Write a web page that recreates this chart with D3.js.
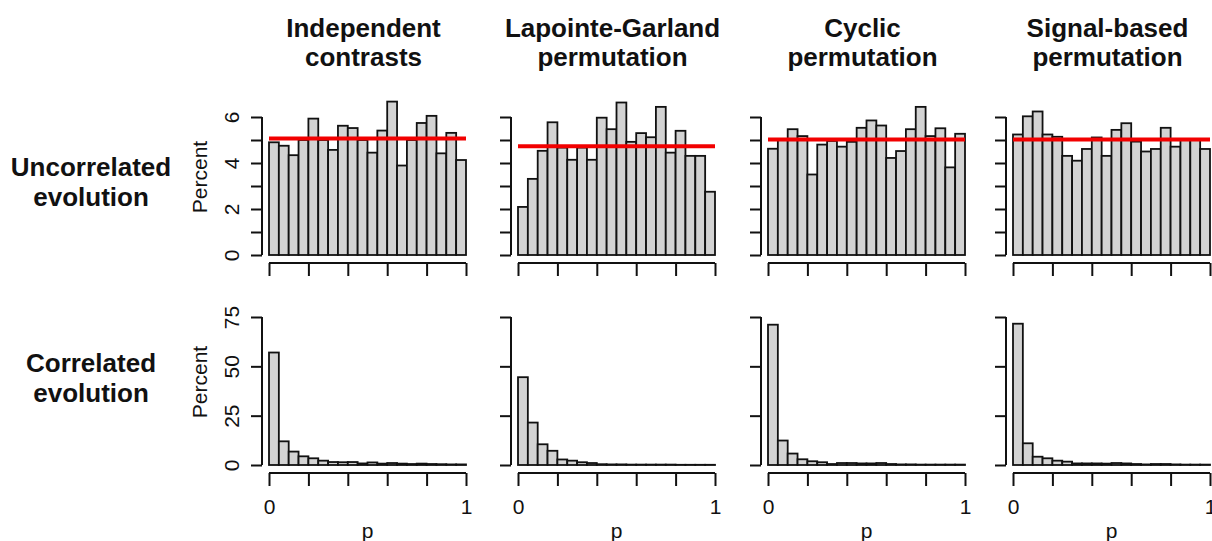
<!DOCTYPE html>
<html>
<head>
<meta charset="utf-8">
<script src="https://cdn.jsdelivr.net/npm/d3@7"></script>
<style>
  body { margin: 0; background: #fff; }
  text { font-family: "Liberation Sans", Arial, Helvetica, sans-serif; fill: #111; }
</style>
</head>
<body>
<div id="chart"></div>
<script>
// bin edges for the p-value histograms
var binEdges = [0, 0.05, 0.1, 0.15, 0.2, 0.25, 0.3, 0.35, 0.4, 0.45, 0.5,
                0.55, 0.6, 0.65, 0.7, 0.75, 0.8, 0.85, 0.9, 0.95, 1];

var columnTitles = [
    ['Independent', 'contrasts'],
    ['Lapointe-Garland', 'permutation'],
    ['Cyclic', 'permutation'],
    ['Signal-based', 'permutation']
];
var rowTitles = [
    ['Uncorrelated', 'evolution'],
    ['Correlated', 'evolution']
];

// percent of p values per bin, uncorrelated evolution
var uncorrIC  = [4.90, 4.75, 4.34, 5.00, 5.93, 5.00, 4.57, 5.62, 5.52, 5.00,
                 4.45, 5.41, 6.67, 3.89, 5.00, 5.74, 6.05, 4.42, 5.31, 4.13];
var uncorrLG  = [2.09, 3.31, 4.53, 5.77, 4.67, 4.14, 4.67, 4.14, 5.97, 5.47,
                 6.63, 4.92, 5.30, 5.12, 6.44, 4.45, 5.40, 4.31, 4.31, 2.75];
var uncorrCyc = [4.62, 5.00, 5.47, 5.17, 3.50, 4.80, 4.96, 4.71, 4.92, 5.53,
                 5.85, 5.63, 4.22, 4.52, 5.47, 6.44, 5.17, 5.51, 3.81, 5.27];
var uncorrSig = [5.24, 6.03, 6.24, 5.24, 5.14, 4.31, 4.10, 4.61, 5.11, 4.31,
                 5.44, 5.73, 4.93, 4.50, 4.61, 5.53, 4.71, 5.00, 5.00, 4.61];

// percent of p values per bin, correlated evolution
var corrIC  = [57.0, 12.0, 6.8, 4.4, 3.4, 2.2, 1.5, 1.4, 1.5, 0.8,
               1.3, 0.7, 1.0, 0.7, 0.5, 0.7, 0.5, 0.4, 0.3, 0.3];
var corrLG  = [44.5, 21.5, 10.5, 7.2, 2.8, 2.2, 1.4, 1.0, 0.4, 0.3,
               0.3, 0.2, 0.2, 0.2, 0.2, 0.2, 0.1, 0.1, 0.1, 0.1];
var corrCyc = [71.1, 12.4, 5.8, 2.9, 1.9, 1.4, 0.5, 1.0, 1.0, 0.8,
               0.8, 1.0, 0.5, 0.3, 0.3, 0.2, 0.2, 0.2, 0.2, 0.2];
var corrSig = [71.6, 11.0, 4.2, 3.4, 2.2, 1.7, 0.8, 0.8, 0.8, 0.7,
               1.0, 0.8, 0.5, 0.3, 0.5, 0.5, 0.3, 0.2, 0.2, 0.2];

// expected uniform level drawn in red on the uncorrelated row
var expectedLevel = [5.07, 4.73, 5.02, 5.02];

var yTicksTop = [0, 1, 2, 3, 4, 5, 6],
    yLabelsTop = [0, 2, 4, 6],
    yTicksBottom = [0, 25, 50, 75],
    yLabelsBottom = [0, 25, 50, 75],
    xTicks = [0, 0.2, 0.4, 0.6, 0.8, 1],
    xLabels = [0, 1];

var rows = [
    { series: [uncorrIC, uncorrLG, uncorrCyc, uncorrSig], yMax: 6,
      yTicks: yTicksTop, yLabels: yLabelsTop, ref: expectedLevel },
    { series: [corrIC, corrLG, corrCyc, corrSig], yMax: 75,
      yTicks: yTicksBottom, yLabels: yLabelsBottom, ref: null }
];

// layout
var W = 1212, H = 541;
var colLeft = [269, 518, 768, 1013],
    plotWidth = 197;
var rowBox = [
    { base: 255, top: 117, axisY: 263 },
    { base: 465, top: 317, axisY: 473 }
];

function Hist() {
    var left = 0, width = 200, base = 200, top = 0,
        axisY = 210, yMax = 1, yTicks = [], yLabels = [],
        showY = false, showX = false, ref = null;

    function chart(g, values) {
        var x = d3.scaleLinear().domain([0, 1]).range([left, left + width]);
        var y = d3.scaleLinear().domain([0, yMax]).range([base, top]);

        var bins = values.map(function(v, i) {
            return { x0: binEdges[i], x1: binEdges[i + 1], v: v };
        });

        g.selectAll('rect.bar')
            .data(bins)
            .enter().append('rect')
            .attr('class', 'bar')
            .attr('x', function(d) { return x(d.x0); })
            .attr('width', function(d) { return x(d.x1) - x(d.x0); })
            .attr('y', function(d) { return y(d.v); })
            .attr('height', function(d) { return y(0) - y(d.v); })
            .attr('fill', '#d3d3d3')
            .attr('stroke', '#111')
            .attr('stroke-width', 1.8);

        if (ref !== null) {
            g.append('line')
                .attr('x1', x(0)).attr('x2', x(1))
                .attr('y1', y(ref)).attr('y2', y(ref))
                .attr('stroke', '#f20000')
                .attr('stroke-width', 4);
        }

        // y axis, R style: line from first to last tick, outward ticks
        var yAxis = d3.axisLeft(y)
            .tickValues(yTicks)
            .tickSize(11)
            .tickFormat(function(d) {
                return (showY && yLabels.indexOf(d) >= 0) ? d : '';
            });
        var ya = g.append('g')
            .attr('transform', 'translate(' + (left - 7) + ',0)')
            .call(yAxis);
        ya.select('.domain').attr('d', 'M0,' + y(yTicks[0]) + 'V' + y(yTicks[yTicks.length - 1]));
        ya.selectAll('path, line').attr('stroke', '#111').attr('stroke-width', 2);
        // labels rotated like R's default las = 0
        ya.selectAll('.tick text')
            .attr('font-size', 21)
            .attr('fill', '#111')
            .attr('x', -23)
            .attr('y', 0)
            .attr('dy', 0)
            .attr('transform', 'rotate(-90,-23,0)')
            .style('text-anchor', 'middle');

        // x axis
        var xAxis = d3.axisBottom(x)
            .tickValues(xTicks)
            .tickSize(13)
            .tickPadding(13)
            .tickFormat(function(d) {
                return (showX && xLabels.indexOf(d) >= 0) ? d : '';
            });
        var xa = g.append('g')
            .attr('transform', 'translate(0,' + axisY + ')')
            .call(xAxis);
        xa.select('.domain').attr('d', 'M' + x(0) + ',0H' + x(1));
        xa.selectAll('path, line').attr('stroke', '#111').attr('stroke-width', 2);
        xa.selectAll('text').attr('font-size', 21).attr('fill', '#111');

        if (showY) {
            g.append('text')
                .attr('transform', 'translate(207,' + ((y(0) + y(yMax)) / 2 - 9) + ') rotate(-90)')
                .style('text-anchor', 'middle')
                .attr('font-size', 21)
                .text('Percent');
        }
        if (showX) {
            g.append('text')
                .attr('x', x(0.5))
                .attr('y', axisY + 65)
                .style('text-anchor', 'middle')
                .attr('font-size', 21)
                .text('p');
        }
    }

    chart.left = function(v) { if (!arguments.length) return left; left = v; return chart; };
    chart.width = function(v) { if (!arguments.length) return width; width = v; return chart; };
    chart.base = function(v) { if (!arguments.length) return base; base = v; return chart; };
    chart.top = function(v) { if (!arguments.length) return top; top = v; return chart; };
    chart.axisY = function(v) { if (!arguments.length) return axisY; axisY = v; return chart; };
    chart.yMax = function(v) { if (!arguments.length) return yMax; yMax = v; return chart; };
    chart.yTicks = function(v) { if (!arguments.length) return yTicks; yTicks = v; return chart; };
    chart.yLabels = function(v) { if (!arguments.length) return yLabels; yLabels = v; return chart; };
    chart.showY = function(v) { if (!arguments.length) return showY; showY = v; return chart; };
    chart.showX = function(v) { if (!arguments.length) return showX; showX = v; return chart; };
    chart.ref = function(v) { if (!arguments.length) return ref; ref = v; return chart; };

    return chart;
}

var svg = d3.select('#chart').append('svg')
    .attr('width', W)
    .attr('height', H);

// column titles
columnTitles.forEach(function(lines, c) {
    var cx = colLeft[c] + plotWidth / 2 - 4;
    var t = svg.append('text')
        .attr('x', cx)
        .attr('y', 37)
        .attr('font-size', 26)
        .attr('font-weight', 'bold')
        .style('text-anchor', 'middle');
    lines.forEach(function(s, i) {
        t.append('tspan')
            .attr('x', cx)
            .attr('dy', i === 0 ? 0 : 29)
            .text(s);
    });
});

// row titles
var rowBaselines = [176, 372];
rowTitles.forEach(function(lines, r) {
    var t = svg.append('text')
        .attr('x', 91)
        .attr('y', rowBaselines[r])
        .attr('font-size', 26)
        .attr('font-weight', 'bold')
        .style('text-anchor', 'middle');
    lines.forEach(function(s, i) {
        t.append('tspan')
            .attr('x', 91)
            .attr('dy', i === 0 ? 0 : 30)
            .text(s);
    });
});

rows.forEach(function(row, r) {
    row.series.forEach(function(values, c) {
        var h = Hist()
            .left(colLeft[c])
            .width(plotWidth)
            .base(rowBox[r].base)
            .top(rowBox[r].top)
            .axisY(rowBox[r].axisY)
            .yMax(row.yMax)
            .yTicks(row.yTicks)
            .yLabels(row.yLabels)
            .showY(c === 0)
            .showX(r === 1)
            .ref(row.ref ? row.ref[c] : null);
        svg.append('g').call(h, values);
    });
});
</script>
</body>
</html>
